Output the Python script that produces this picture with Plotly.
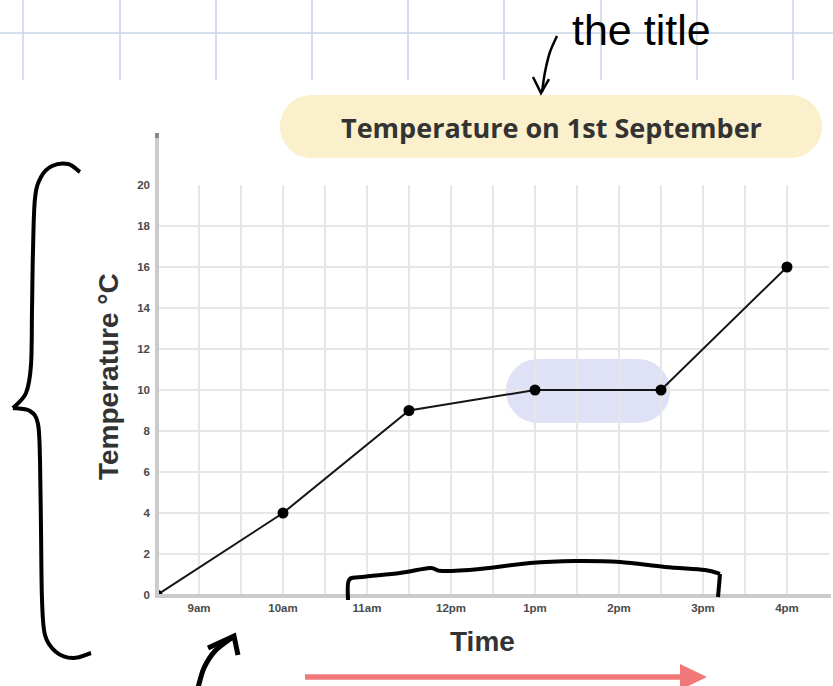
import plotly.graph_objects as go

# data (time in hours, temperature in °C)
hours = [8.5, 10, 11.5, 13, 14.5, 16]
temps = [0, 4, 9, 10, 10, 16]
tick_hours = [9, 10, 11, 12, 13, 14, 15, 16]
tick_labels = ["9am", "10am", "11am", "12pm", "1pm", "2pm", "3pm", "4pm"]
temp_ticks = [0, 2, 4, 6, 8, 10, 12, 14, 16, 18, 20]

W, H = 833, 686
L, R, T, B = 157, 829, 185, 595


def px(x):
    return (x - L) / (R - L)


def py(y):
    return (B - y) / (B - T)


def smooth(points):
    pts = [(px(x), py(y)) for x, y in points]
    d = f"M {pts[0][0]:.4f},{pts[0][1]:.4f}"
    for i in range(len(pts) - 1):
        p0 = pts[i - 1] if i > 0 else pts[i]
        p1, p2 = pts[i], pts[i + 1]
        p3 = pts[i + 2] if i + 2 < len(pts) else p2
        c1 = (p1[0] + (p2[0] - p0[0]) / 6, p1[1] + (p2[1] - p0[1]) / 6)
        c2 = (p2[0] - (p3[0] - p1[0]) / 6, p2[1] - (p3[1] - p1[1]) / 6)
        d += f" C {c1[0]:.4f},{c1[1]:.4f} {c2[0]:.4f},{c2[1]:.4f} {p2[0]:.4f},{p2[1]:.4f}"
    return d


def polyline(points, close=False):
    d = " ".join(f"{'M' if i == 0 else 'L'} {px(x):.4f},{py(y):.4f}" for i, (x, y) in enumerate(points))
    return d + (" Z" if close else "")


def pill(x0, y0, x1, y1):
    r = (y1 - y0) / 2
    k = 0.5523 * r
    seg = [
        ("M", [(x0 + r, y0)]),
        ("L", [(x1 - r, y0)]),
        ("C", [(x1 - r + k, y0), (x1, y0 + r - k), (x1, y0 + r)]),
        ("C", [(x1, y0 + r + k), (x1 - r + k, y1), (x1 - r, y1)]),
        ("L", [(x0 + r, y1)]),
        ("C", [(x0 + r - k, y1), (x0, y0 + r + k), (x0, y0 + r)]),
        ("C", [(x0, y0 + r - k), (x0 + r - k, y0), (x0 + r, y0)]),
    ]
    out = []
    for cmd, pts in seg:
        out.append(cmd + " " + " ".join(f"{px(x):.4f},{py(y):.4f}" for x, y in pts))
    return " ".join(out) + " Z"


def stroke(path, width=4, color="black"):
    return dict(type="path", xref="paper", yref="paper", path=path,
                line=dict(color=color, width=width), layer="above")


fig = go.Figure()

fig.add_trace(go.Scatter(
    x=hours, y=temps,
    mode="lines+markers",
    line=dict(color="#151515", width=2),
    marker=dict(color="#000000", size=11),
    hovertemplate="%{x}: %{y}°C<extra></extra>",
))

shapes = []

# notebook grid at the top
for gx in [23, 120, 216, 312, 408, 504, 601, 697, 793]:
    shapes.append(dict(type="line", xref="paper", yref="paper",
                       x0=px(gx), x1=px(gx), y0=py(0), y1=py(80),
                       line=dict(color="#c7d4e8", width=1.5), layer="below"))
shapes.append(dict(type="line", xref="paper", yref="paper",
                   x0=px(0), x1=px(W), y0=py(33), y1=py(33),
                   line=dict(color="#c7d4e8", width=1.5), layer="below"))

# title pill and highlight pill
shapes.append(dict(type="path", xref="paper", yref="paper", path=pill(280, 95, 822, 158),
                   fillcolor="#fbf0cc", line=dict(width=0), layer="below"))
shapes.append(dict(type="path", xref="paper", yref="paper", path=pill(506, 359, 670, 423),
                   fillcolor="#dfe2f6", line=dict(width=0), layer="below"))

# axis lines
shapes.append(dict(type="line", xref="paper", yref="paper",
                   x0=0, x1=0, y0=py(597), y1=py(133),
                   line=dict(color="#cbcbcb", width=4), layer="above"))
shapes.append(dict(type="line", xref="paper", yref="paper",
                   x0=0, x1=0, y0=py(138), y1=py(133),
                   line=dict(color="#8a8a8a", width=4), layer="above"))
shapes.append(dict(type="line", xref="paper", yref="paper",
                   x0=px(155), x1=px(831), y0=py(596), y1=py(596),
                   line=dict(color="#cbcbcb", width=4), layer="above"))

# hand drawn marks
shapes.append(stroke(smooth([(80, 172), (68, 164), (52, 166), (41, 177), (35, 198), (33, 250),
                             (32, 310), (31, 365), (26, 393), (13, 408)]), 4))
shapes.append(stroke(smooth([(13, 408), (30, 411), (38, 424), (40, 460), (41, 530),
                             (42, 600), (45, 635), (56, 652), (73, 658), (91, 653)]), 4))
shapes.append(stroke(smooth([(348, 600), (349, 580), (362, 577), (400, 573), (430, 568),
                             (442, 571), (480, 569), (530, 563), (575, 561), (620, 562),
                             (665, 567), (705, 570), (720, 574)]), 4))
shapes.append(stroke(smooth([(720, 574), (719, 586), (718, 597)]), 4))
shapes.append(stroke(smooth([(198, 688), (204, 668), (215, 651), (233, 637)]), 5))
shapes.append(stroke(polyline([(208, 648), (234, 636), (238, 655)]), 5))
shapes.append(stroke(smooth([(557, 36), (550, 52), (545, 72), (542, 92)]), 2.5))
shapes.append(stroke(polyline([(533, 77), (541, 93), (549, 79)]), 2.5))

# red arrow
shapes.append(dict(type="line", xref="paper", yref="paper",
                   x0=px(305), x1=px(684), y0=py(677), y1=py(677),
                   line=dict(color="#f07878", width=5.5), layer="above"))
shapes.append(dict(type="path", xref="paper", yref="paper",
                   path=polyline([(680, 664), (707, 677), (680, 690)], close=True),
                   fillcolor="#f07878", line=dict(width=0), layer="above"))

annotations = [
    dict(text="<b>Temperature on 1st September</b>", x=px(551), y=py(127),
         font=dict(family="Open Sans", size=27, color="#333333")),
    dict(text="<b>Time</b>", x=px(482), y=py(641),
         font=dict(family="Liberation Sans", size=28, color="#333333")),
    dict(text="<b>Temperature °C</b>", x=px(108), y=py(377), textangle=-90,
         font=dict(family="Liberation Sans", size=28, color="#333333")),
    dict(text="the title", x=px(641), y=py(30),
         font=dict(family="Liberation Sans", size=43, color="#000000")),
]
for a in annotations:
    a.update(xref="paper", yref="paper", showarrow=False, xanchor="center", yanchor="middle")

tick_font = dict(family="Liberation Sans", size=11.5, color="#4a4a4a", weight="bold")

fig.update_layout(
    width=W, height=H,
    margin=dict(l=L, r=W - R, t=T, b=H - B, pad=0),
    paper_bgcolor="white",
    plot_bgcolor="white",
    showlegend=False,
    shapes=shapes,
    annotations=annotations,
    xaxis=dict(
        range=[8.5, 16.5],
        tickvals=tick_hours,
        ticktext=tick_labels,
        tickfont=tick_font,
        ticks="",
        ticklabelstandoff=4,
        showgrid=True,
        gridcolor="#e6e6e6",
        gridwidth=1.5,
        minor=dict(tick0=8.5, dtick=0.5, showgrid=True, gridcolor="#e6e6e6", gridwidth=1.5),
        showline=False,
        zeroline=False,
        fixedrange=True,
    ),
    yaxis=dict(
        range=[0, 20],
        tickvals=temp_ticks,
        tickfont=tick_font,
        ticks="",
        ticklabelstandoff=6,
        showgrid=True,
        gridcolor="#e6e6e6",
        gridwidth=1.5,
        showline=False,
        zeroline=False,
        fixedrange=True,
    ),
)

fig.write_html("out.html", config={"displayModeBar": False},
               post_script="document.body.style.margin='0';")
